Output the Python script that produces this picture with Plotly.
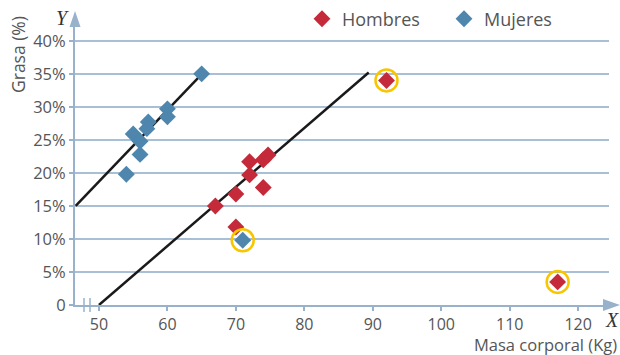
import plotly.graph_objects as go

# ---- data ----
hombres_masa = [67, 70, 70, 72, 72, 74, 74, 74.7, 92, 117]
hombres_grasa = [15, 11.8, 16.8, 19.7, 21.7, 17.8, 22, 22.7, 34, 3.5]
mujeres_masa = [54, 55, 56, 56, 57.2, 57, 60, 60, 65, 71]
mujeres_grasa = [19.8, 25.9, 24.8, 22.8, 27.7, 26.7, 29.7, 28.5, 35, 9.8]

# trend-line end points
hombres_trend_x = [50, 89.4]
hombres_trend_y = [0, 35.2]
mujeres_trend_x = [46.6, 64.7]
mujeres_trend_y = [15, 34.6]

# highlighted outliers (series, index)
outliers = [("h", 8), ("h", 9), ("m", 9)]

x_ticks = [50, 60, 70, 80, 90, 100, 110, 120]
x_ticklabels = ["50", "60", "70", "80", "90", "100", "110", "120"]
y_ticks = [0, 5, 10, 15, 20, 25, 30, 35, 40]
y_ticklabels = ["0", "5%", "10%", "15%", "20%", "25%", "30%", "35%", "40%"]

RED = "#C42A3A"
BLUE = "#4E86AD"
GRID = "#A9BFD5"
AXIS = "#98B2CC"
TXT = "#555555"
YELLOW = "#F7C600"
FONT = "Open Sans"

fig = go.Figure()

fig.add_trace(go.Scatter(x=mujeres_trend_x, y=mujeres_trend_y, mode="lines",
                         line=dict(color="#1a1a1a", width=2.5), showlegend=False,
                         hoverinfo="skip"))
fig.add_trace(go.Scatter(x=hombres_trend_x, y=hombres_trend_y, mode="lines",
                         line=dict(color="#1a1a1a", width=2.5), showlegend=False,
                         hoverinfo="skip"))

fig.add_trace(go.Scatter(x=hombres_masa, y=hombres_grasa, mode="markers", name="Hombres",
                         marker=dict(symbol="diamond", size=13, color=RED)))
fig.add_trace(go.Scatter(x=mujeres_masa, y=mujeres_grasa, mode="markers", name="Mujeres",
                         marker=dict(symbol="diamond", size=13, color=BLUE)))

ox = [(hombres_masa if s == "h" else mujeres_masa)[i] for s, i in outliers]
oy = [(hombres_grasa if s == "h" else mujeres_grasa)[i] for s, i in outliers]
fig.add_trace(go.Scatter(x=ox, y=oy, mode="markers", showlegend=False, hoverinfo="skip",
                         marker=dict(symbol="circle-open", size=22,
                                     line=dict(color=YELLOW, width=2.5), color=YELLOW)))

L, R, T, B = 75, 11, 21, 50
W, H = 620, 355
pw, ph = W - L - R, H - T - B


def px(x):
    return (x - L) / pw


def py(y):
    return (H - B - y) / ph


shapes = [
    # y axis arrow
    dict(type="path", xref="paper", yref="paper", line=dict(width=0), fillcolor=AXIS,
         path=f"M {px(69.5)} {py(27)} L {px(80.5)} {py(27)} L {px(75)} {py(11)} Z"),
    # x axis arrow
    dict(type="path", xref="paper", yref="paper", line=dict(width=0), fillcolor=AXIS,
         path=f"M {px(603)} {py(299)} L {px(603)} {py(311)} L {px(620)} {py(305)} Z"),
    # axis break marks
    dict(type="line", xref="paper", yref="paper", x0=px(84), x1=px(84), y0=py(298), y1=py(312),
         line=dict(color=AXIS, width=1.5)),
    dict(type="line", xref="paper", yref="paper", x0=px(90), x1=px(90), y0=py(298), y1=py(312),
         line=dict(color=AXIS, width=1.5)),
]

annotations = [
    dict(text="Grasa (%)", textangle=-90, xref="paper", yref="paper", x=px(18), y=py(55),
         xanchor="center", yanchor="middle",
         showarrow=False, font=dict(family=FONT, size=17.5, color=TXT)),
    dict(text="<i>Y</i>", xref="paper", yref="paper", x=px(62), y=py(18),
         xanchor="center", yanchor="middle", showarrow=False,
         font=dict(family="Liberation Serif", size=20, color="#333")),
    dict(text="<i>X</i>", xref="paper", yref="paper", x=px(612), y=py(320),
         xanchor="center", yanchor="middle", showarrow=False,
         font=dict(family="Liberation Serif", size=20, color="#333")),
    dict(text="Masa corporal (Kg)", xref="paper", yref="paper", x=px(618), y=py(344),
         xanchor="right", yanchor="middle", showarrow=False, borderpad=0,
         font=dict(family=FONT, size=16.5, color=TXT)),
]

fig.update_layout(
    width=W, height=H,
    margin=dict(l=L, r=R, t=T, b=B, autoexpand=False),
    plot_bgcolor="white", paper_bgcolor="white",
    font=dict(family=FONT, size=16, color=TXT),
    shapes=shapes, annotations=annotations,
    legend=dict(orientation="h", x=px(302), y=py(19), xanchor="left", yanchor="middle",
                font=dict(family=FONT, size=18, color=TXT), entrywidth=97,
                bgcolor="rgba(0,0,0,0)"),
    xaxis=dict(range=[46.5, 124.5], tickvals=x_ticks, ticktext=x_ticklabels,
               showgrid=False, zeroline=False, showline=True, linecolor=AXIS, linewidth=2,
               ticks="outside", ticklen=4, tickcolor=AXIS, tickwidth=1.5,
               tickfont=dict(family=FONT, size=16, color=TXT)),
    yaxis=dict(range=[0, 43], tickvals=y_ticks, ticktext=y_ticklabels,
               showgrid=True, gridcolor=GRID, gridwidth=1.5, zeroline=False,
               showline=True, linecolor=AXIS, linewidth=2,
               ticks="outside", ticklen=4, tickcolor=AXIS, tickwidth=1.5,
               tickfont=dict(family=FONT, size=16.5, color=TXT)),
)

fig.write_html("out.html", config={"displayModeBar": False},
               post_script="document.body.style.margin='0';document.body.style.overflow='hidden';")
